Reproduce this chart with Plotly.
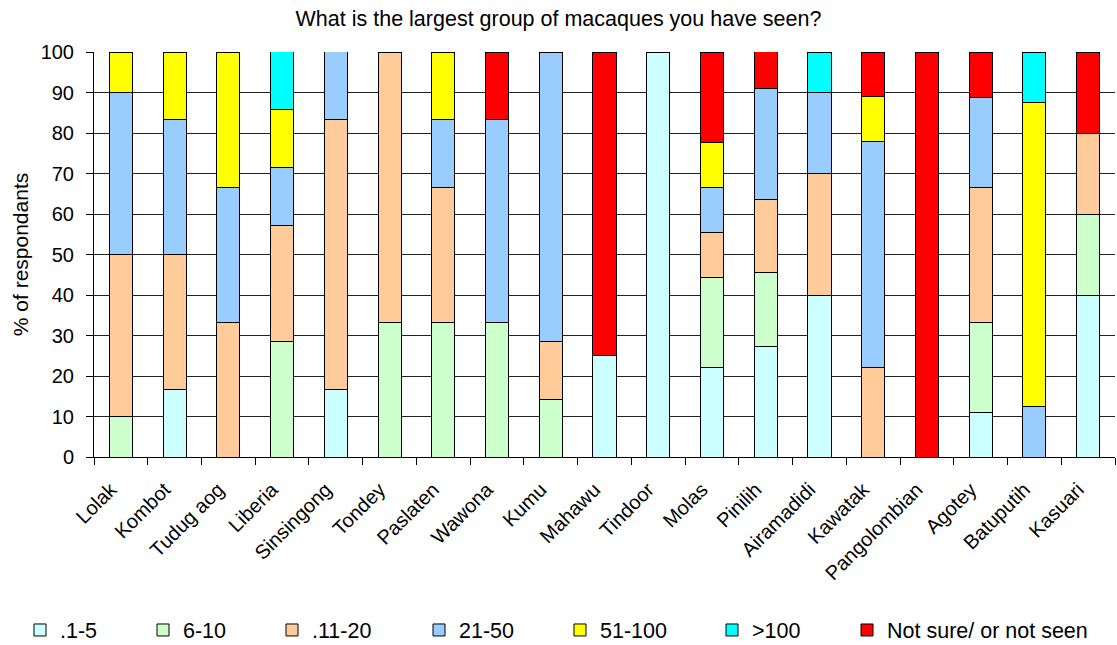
import plotly.graph_objects as go

sites = ["Lolak", "Kombot", "Tudug aog", "Liberia", "Sinsingong", "Tondey", "Paslaten",
         "Wawona", "Kumu", "Mahawu", "Tindoor", "Molas", "Pinilih", "Airamadidi",
         "Kawatak", "Pangolombian", "Agotey", "Batuputih", "Kasuari"]

# percentage of respondents per group-size class, one value per site
g_1_5 = [0, 16.7, 0, 0, 16.7, 0, 0, 0, 0, 25, 100, 22.2, 27.3, 40, 0, 0, 11.1, 0, 40]
g_6_10 = [10, 0, 0, 28.6, 0, 33.3, 33.3, 33.3, 14.3, 0, 0, 22.2, 18.2, 0, 0, 0, 22.2, 0, 20]
g_11_20 = [40, 33.3, 33.3, 28.6, 66.7, 66.7, 33.3, 0, 14.3, 0, 0, 11.1, 18.2, 30, 22.2, 0, 33.3, 0, 20]
g_21_50 = [40, 33.3, 33.3, 14.3, 16.7, 0, 16.7, 50, 71.4, 0, 0, 11.1, 27.3, 20, 55.6, 0, 22.2, 12.5, 0]
g_51_100 = [10, 16.7, 33.3, 14.3, 0, 0, 16.7, 0, 0, 0, 0, 11.1, 0, 0, 11.1, 0, 0, 75, 0]
g_over_100 = [0, 0, 0, 14.3, 0, 0, 0, 0, 0, 0, 0, 0, 0, 10, 0, 0, 0, 12.5, 0]
not_seen = [0, 0, 0, 0, 0, 0, 0, 16.7, 0, 75, 0, 22.2, 9.1, 0, 11.1, 100, 11.1, 0, 20]

series = [
    (".1-5", g_1_5, "#CCFFFF"),
    ("6-10", g_6_10, "#CCFFCC"),
    (".11-20", g_11_20, "#FFCC99"),
    ("21-50", g_21_50, "#99CCFF"),
    ("51-100", g_51_100, "#FFFF00"),
    (">100", g_over_100, "#00FFFF"),
    ("Not sure/ or not seen", not_seen, "#FF0000"),
]

FONT = "Liberation Sans, Arial, sans-serif"
W, H = 1117, 645
ML, MR, MT, MB = 94, 2, 52, 188

# left edge (px) of each legend entry along the bottom row
legend_px = [20, 143, 272, 419, 560, 712, 847]
legend_y_px = 630

fig = go.Figure()
layout_legends = {}
for i, (name, vals, color) in enumerate(series):
    key = "legend" if i == 0 else f"legend{i + 1}"
    fig.add_trace(go.Bar(
        x=sites, y=vals, name=name, legend=key, showlegend=True,
        marker=dict(color=color, line=dict(color="black", width=1)),
    ))
    layout_legends[key] = dict(
        xref="container", yref="container",
        x=legend_px[i] / W, xanchor="left",
        y=1 - legend_y_px / H, yanchor="middle",
        orientation="h", bgcolor="rgba(0,0,0,0)",
        font=dict(size=21.5, family=FONT, color="black"),
        itemwidth=30, visible=True,
    )

fig.update_layout(
    showlegend=True,
    barmode="stack",
    bargap=0.57,
    width=W, height=H,
    margin=dict(l=ML, r=MR, t=MT, b=MB, autoexpand=False),
    paper_bgcolor="white", plot_bgcolor="white",
    font=dict(family=FONT, size=20, color="black"),
    title=dict(text="What is the largest group of macaques you have seen?",
               x=0.5, xanchor="center", y=1 - 18 / H, yanchor="middle",
               font=dict(size=21.5, family=FONT)),
    xaxis=dict(type="category", tickangle=-45, tickson="boundaries",
               ticks="outside", ticklen=7, tickcolor="black",
               ticklabelstandoff=12, ticklabelshift=-10,
               showline=True, linecolor="black", linewidth=1,
               showgrid=False, tickfont=dict(size=20)),
    yaxis=dict(range=[0, 100], dtick=10, ticks="outside", ticklen=7,
               tickcolor="black", ticklabelstandoff=8,
               showline=True, linecolor="black", linewidth=1,
               showgrid=True, gridcolor="#222222", gridwidth=1,
               title=dict(text="% of respondants", font=dict(size=21), standoff=6),
               tickfont=dict(size=20)),
    **layout_legends,
)

fig.write_html("out.html")
